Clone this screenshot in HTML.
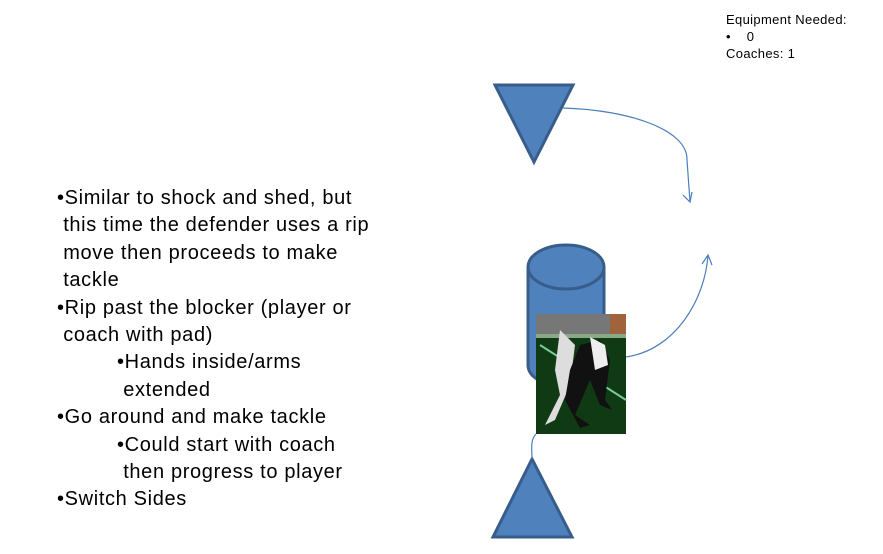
<!DOCTYPE html>
<html><head><style>
body{margin:0;width:883px;height:554px;background:#fff;position:relative;overflow:hidden;font-family:"Liberation Sans",sans-serif;}
.t{position:absolute;left:57px;top:185px;font-size:20px;line-height:27.4px;color:#000;letter-spacing:0.65px;}
.t div{white-space:nowrap}
.in{padding-left:60px}
.eq{position:absolute;left:726px;top:11px;font-size:13px;line-height:17px;letter-spacing:0.35px;}
</style></head><body>
<div class="eq">Equipment Needed:<br>•&nbsp;&nbsp;&nbsp;&nbsp;0<br>Coaches: 1</div>
<div class="t">
<div>•Similar to shock and shed, but</div>
<div>&nbsp;this time the defender uses a rip</div>
<div>&nbsp;move then proceeds to make</div>
<div>&nbsp;tackle</div>
<div>•Rip past the blocker (player or</div>
<div>&nbsp;coach with pad)</div>
<div class="in">•Hands inside/arms</div>
<div class="in">&nbsp;extended</div>
<div>•Go around and make tackle</div>
<div class="in">•Could start with coach</div>
<div class="in">&nbsp;then progress to player</div>
<div>•Switch Sides</div>
</div>
<svg width="883" height="554" style="position:absolute;left:0;top:0">
<polygon points="495,85 573,85 534,162" fill="#4f81bd" stroke="#385d8a" stroke-width="3"/>
<polygon points="532,459 493,537 572,537" fill="#4f81bd" stroke="#385d8a" stroke-width="3"/>
<path d="M528,267 V365 A38,22 0 0 0 604,365 V267" fill="#4f81bd" stroke="#385d8a" stroke-width="3"/>
<ellipse cx="566" cy="267" rx="38" ry="22" fill="#4f81bd" stroke="#385d8a" stroke-width="3"/>
<g>
<rect x="536" y="314" width="90" height="120" fill="#0f3a14"/>
<rect x="536" y="314" width="90" height="20" fill="#777"/>
<rect x="610" y="314" width="16" height="20" fill="#a0643c"/>
<rect x="536" y="334" width="90" height="4" fill="#8a8"/>
<path d="M540,345 L626,400" stroke="#7c9" stroke-width="2"/>
<path d="M560,330 L575,345 L570,385 L555,420 L545,425 L560,395 L555,370 Z" fill="#ddd"/>
<path d="M580,345 L600,340 L610,360 L605,400 L612,410 L600,405 L590,380 L575,415 L590,425 L580,428 L565,400 L570,370 Z" fill="#111"/>
<path d="M590,337 L605,345 L608,365 L595,370 Z" fill="#eee"/>
</g>
<g fill="none" stroke="#4a7ebb" stroke-width="1.2">
<path d="M563,108 C630,110 688,130 687,160 L690,202"/>
<path d="M683,195 L690,202 L692,192"/>
<path d="M626,357 C675,350 705,300 708,255"/>
<path d="M702,264 L708,255 L712,265"/>
<path d="M536,434 C530,440 532,450 532,459"/>
</g>
</svg>
</body></html>
